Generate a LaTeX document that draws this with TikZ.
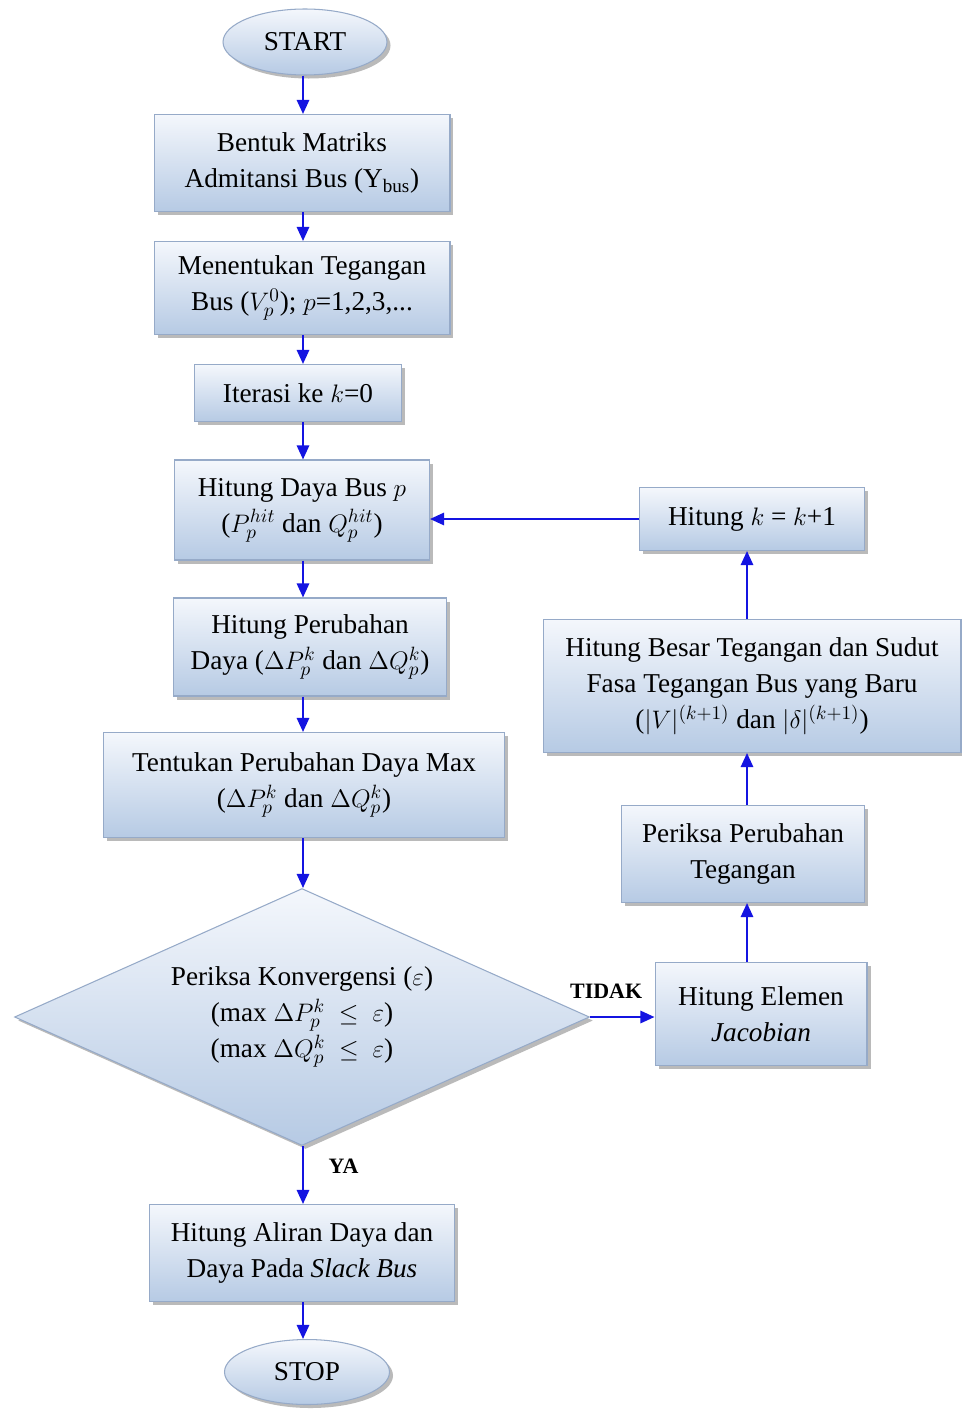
\documentclass[tikz,border=0pt]{standalone}
\usepackage{fontspec}
\setmainfont{Liberation Serif}
\usetikzlibrary{shapes.geometric,shadows,arrows.meta}
\definecolor{boxtop}{RGB}{244,247,252}
\definecolor{boxbot}{RGB}{182,202,228}
\definecolor{boxline}{RGB}{150,170,200}
\definecolor{arrowblue}{RGB}{20,20,225}
\tikzset{
  base/.style={draw=boxline, line width=0.6pt, top color=boxtop, bottom color=boxbot,
    drop shadow={shadow xshift=2pt, shadow yshift=-2pt, opacity=0.45, fill=black!60},
    align=center, inner sep=0pt,
    font=\fontsize{15.5}{20.5}\selectfont},
  procbox/.style={base, rectangle},
  termbox/.style={base, ellipse},
  decbox/.style={base, diamond},
  arr/.style={draw=arrowblue, line width=1.2pt, -{Triangle[length=8pt,width=7pt]}},
  lbl/.style={font=\fontsize{12.5}{14}\selectfont\bfseries, inner sep=0pt}
}
\begin{document}
\begin{tikzpicture}[x=0.02cm, y=-0.02cm]
\useasboundingbox[fill=white] (0,0) rectangle (961,1409);

% main column
\node[termbox, minimum width=3.28cm, minimum height=1.32cm] (start) at (305,42) {START};
\node[procbox, minimum width=5.92cm, minimum height=1.94cm] (b1) at (302,163)
  {Bentuk Matriks\\Admitansi Bus (Y\textsubscript{bus})};
\node[procbox, minimum width=5.92cm, minimum height=1.86cm] (b2) at (302,288)
  {Menentukan Tegangan\\Bus ($V_p^0$); $p$=1,2,3,...};
\node[procbox, minimum width=4.14cm, minimum height=1.14cm] (b3) at (298,393)
  {Iterasi ke $k$=0};
\node[procbox, minimum width=5.10cm, minimum height=2.0cm] (b4) at (302,510)
  {Hitung Daya Bus $p$\\($P_p^{hit}$ dan $Q_p^{hit}$)};
\node[procbox, minimum width=5.46cm, minimum height=1.96cm] (b5) at (310,647)
  {Hitung Perubahan\\Daya ($\Delta P_p^k$ dan $\Delta Q_p^k$)};
\node[procbox, minimum width=8.02cm, minimum height=2.10cm] (b6) at (304,785)
  {Tentukan Perubahan Daya Max\\($\Delta P_p^k$ dan $\Delta Q_p^k$)};
\node[decbox, aspect=2.24, minimum width=11.5cm, minimum height=5.14cm] (dec) at (302,1017)
  {Periksa Konvergensi ($\varepsilon$)\\(max $\Delta P_p^k\ \le\ \varepsilon$)\\(max $\Delta Q_p^k\ \le\ \varepsilon$)};
\node[procbox, minimum width=6.10cm, minimum height=1.94cm] (b7) at (302,1253)
  {Hitung Aliran Daya dan\\Daya Pada \textit{Slack Bus}};
\node[termbox, minimum width=3.30cm, minimum height=1.30cm] (stop) at (307,1372) {STOP};

% right column
\node[procbox, minimum width=4.5cm, minimum height=1.26cm] (kinc) at (752,519)
  {Hitung $k$ = $k$+1};
\node[procbox, minimum width=8.36cm, minimum height=2.66cm] (newv) at (752,686)
  {Hitung Besar Tegangan dan Sudut\\Fasa Tegangan Bus yang Baru\\($|V|^{(k+1)}$ dan $|\delta|^{(k+1)}$)};
\node[procbox, minimum width=4.86cm, minimum height=1.94cm] (chk) at (743,854)
  {Periksa Perubahan\\Tegangan};
\node[procbox, minimum width=4.24cm, minimum height=2.06cm] (jac) at (761,1014)
  {Hitung Elemen\\\textit{Jacobian}};

\coordinate (lc) at (303,0);
\coordinate (rc) at (747,0);

% connectors, main column
\draw[arr] (start.south -| lc) -- (b1.north -| lc);
\draw[arr] (b1.south -| lc) -- (b2.north -| lc);
\draw[arr] (b2.south -| lc) -- (b3.north -| lc);
\draw[arr] (b3.south -| lc) -- (b4.north -| lc);
\draw[arr] (b4.south -| lc) -- (b5.north -| lc);
\draw[arr] (b5.south -| lc) -- (b6.north -| lc);
\draw[arr] (b6.south -| lc) -- (dec.north -| lc);
\draw[arr] (dec.south -| lc) -- node[lbl, right=14pt, pos=0.35] (ya) {YA} (b7.north -| lc);
\draw[arr] (b7.south -| lc) -- (stop.north -| lc);

% connectors, loop back
\draw[arr] (dec.east) -- node[lbl, above=10pt, pos=0.25] (tidak) {TIDAK} (dec.east -| jac.west);
\draw[arr] (jac.north -| rc) -- (chk.south -| rc);
\draw[arr] (chk.north -| rc) -- (newv.south -| rc);
\draw[arr] (newv.north -| rc) -- (kinc.south -| rc);
\draw[arr] (kinc.west) -- (kinc.west -| b4.east);
\end{tikzpicture}
\end{document}
